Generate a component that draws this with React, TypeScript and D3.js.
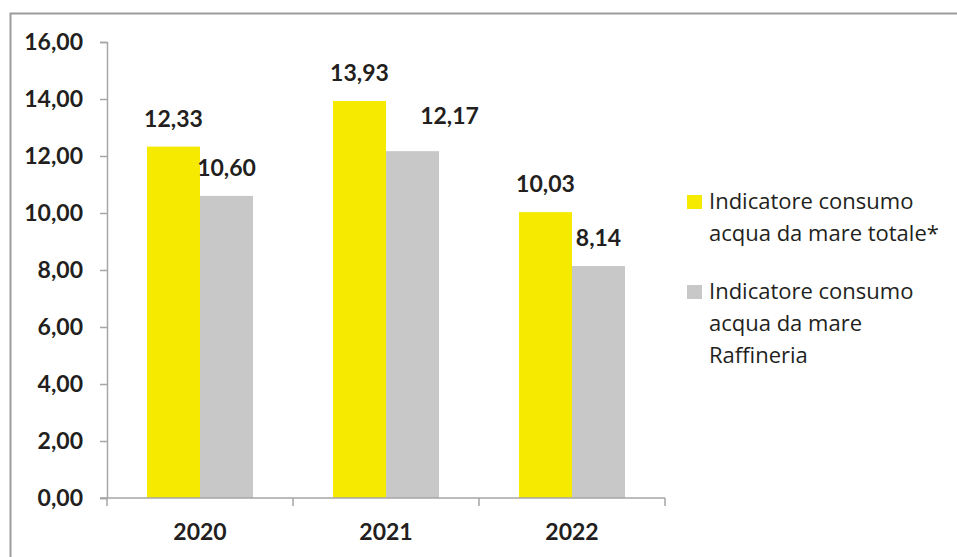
import { useEffect, useRef } from "react"
import * as d3 from "d3"

const years = ["2020", "2021", "2022"]
const totale = [12.33, 13.93, 10.03]
const raffineria = [10.6, 12.17, 8.14]
const yTicks = [0, 2, 4, 6, 8, 10, 12, 14, 16]
const seriesNames = ["totale", "raffineria"]
const legendLines = [
  ["Indicatore consumo", "acqua da mare totale*"],
  ["Indicatore consumo", "acqua da mare", "Raffineria"],
]

const colors = ["#F5EA00", "#C8C8C9"]
const textColor = "#231F20"
const axisColor = "#A6A6A6"
const font = "Lato, 'Open Sans', sans-serif"
const legendFont = "'Open Sans', Lato, sans-serif"

export default function App() {
  const svgRef = useRef(null)

  useEffect(() => {
    if (!svgRef.current) return
    const svg = d3.select(svgRef.current)
    svg.selectAll("*").remove()

    const width = 957
    const height = 557
    const left = 107
    const right = 665
    const top = 42
    const bottom = 498

    // cornice esterna
    svg.append("rect")
      .attr("x", 10.5)
      .attr("y", 13.5)
      .attr("width", 960)
      .attr("height", 560)
      .attr("fill", "none")
      .attr("stroke", "#9B9B9B")
      .attr("stroke-width", 2)

    const x0 = d3.scaleBand().domain(years).range([left, right]).padding(0)
    const bw = x0.bandwidth()
    const x1 = d3.scaleBand().domain(seriesNames).range([bw * 0.215, bw * 0.785]).padding(0)
    const y = d3.scaleLinear().domain([0, 16]).range([bottom, top])

    const fmt = (v: number) => d3.format(".2f")(v).replace(".", ",")

    // barre
    const data = years.map((yr, i) => ({ year: yr, values: [totale[i], raffineria[i]] }))
    data.forEach((d, i) => {
      d.values.forEach((v, j) => {
        const bx = (x0(d.year) as number) + (x1(seriesNames[j]) as number)
        svg.append("rect")
          .attr("x", bx)
          .attr("y", y(v))
          .attr("width", x1.bandwidth())
          .attr("height", bottom - y(v))
          .attr("fill", colors[j])

        // l'etichetta 2021 Raffineria è spostata a destra nell'originale
        const shifted = i === 1 && j === 1
        svg.append("text")
          .attr("x", bx + x1.bandwidth() / 2 + (shifted ? 37 : 0))
          .attr("y", y(v) - 20 - (shifted ? 7 : 0))
          .attr("text-anchor", "middle")
          .attr("font-family", font)
          .attr("font-weight", "bold")
          .attr("font-size", 23)
          .attr("fill", textColor)
          .text(fmt(v))
      })
    })

    // asse Y
    const yAxis = svg.append("g")
      .attr("transform", `translate(${left},0)`)
      .call(d3.axisLeft(y).tickValues(yTicks).tickSize(7).tickPadding(17).tickFormat((d) => fmt(d as number)))
    yAxis.select(".domain").attr("stroke", axisColor).attr("stroke-width", 1.5)
    yAxis.selectAll("line").attr("stroke", axisColor).attr("stroke-width", 1.5)
    yAxis.selectAll("text")
      .attr("font-family", font)
      .attr("font-weight", "bold")
      .attr("font-size", 23)
      .attr("fill", textColor)

    // asse X
    const xAxis = svg.append("g").attr("transform", `translate(0,${bottom})`)
    xAxis.append("line")
      .attr("x1", left - 7)
      .attr("x2", right)
      .attr("stroke", axisColor)
      .attr("stroke-width", 1.5)
    xAxis.selectAll(".tk")
      .data([...years.map((d) => x0(d) as number), right])
      .enter()
      .append("line")
      .attr("class", "tk")
      .attr("x1", (d) => d)
      .attr("x2", (d) => d)
      .attr("y1", 0)
      .attr("y2", 8)
      .attr("stroke", axisColor)
      .attr("stroke-width", 1.5)
    xAxis.selectAll(".lbl")
      .data(years)
      .enter()
      .append("text")
      .attr("class", "lbl")
      .attr("x", (d) => (x0(d) as number) + bw / 2)
      .attr("y", 42)
      .attr("text-anchor", "middle")
      .attr("font-family", font)
      .attr("font-weight", "bold")
      .attr("font-size", 23)
      .attr("fill", textColor)
      .text((d) => d)

    // legenda
    const legendY = [195, 285]
    legendLines.forEach((lines, i) => {
      const lg = svg.append("g").attr("transform", `translate(687,${legendY[i]})`)
      lg.append("rect").attr("width", 15).attr("height", 14).attr("fill", colors[i])
      lines.forEach((t, k) => {
        lg.append("text")
          .attr("x", 22)
          .attr("y", 14 + k * 32)
          .attr("font-family", legendFont)
          .attr("font-size", 22)
          .attr("fill", textColor)
          .text(t)
      })
    })

    svg.attr("width", width).attr("height", height).attr("viewBox", [0, 0, width, height])
  }, [])

  return (
    <svg ref={svgRef} style={{ position: "absolute", left: 0, top: 0, background: "#fff" }}></svg>
  )
}
